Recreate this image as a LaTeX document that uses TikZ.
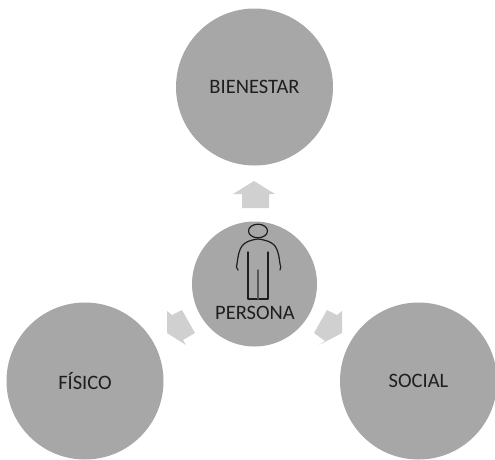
\documentclass[tikz,border=0pt]{standalone}
\usepackage{fontspec}
\setmainfont{Carlito}
\definecolor{disc}{RGB}{167,167,167}
\definecolor{arr}{RGB}{208,208,208}
\definecolor{ink}{RGB}{30,30,30}
\tikzset{
 disc/.style={circle,fill=disc,minimum size=#1,inner sep=0pt,font=\fontsize{20.5}{24}\selectfont,text=ink},
 fat/.style={fill=arr,draw=none},
 figline/.style={draw=ink,line width=1.2pt,line join=round,line cap=round}
}
\begin{document}
\begin{tikzpicture}[x=1pt,y=-1pt]
\useasboundingbox (0,0) rectangle (495,459);
\node[disc=157pt] (b) at (254.5,87) {BIENESTAR};
\node[disc=157pt] (f) at (85,381) {FÍSICO};
\node[disc=157pt] (s) at (418.5,381) {SOCIAL};
\node[disc=125pt] (p) at (254.5,284) {};
\node[font=\fontsize{20.5}{24}\selectfont,text=ink] (pl) at (255,313) {PERSONA};
\fill[fat] (254,181) -- (275,194) -- (269,194) -- (269,208) -- (242,208) -- (242,194) -- (233,194) -- cycle;
\fill[fat] (167,333) -- (167,311) -- (172,315) -- (182,310) -- (195,333) -- (183,340) -- (186,345) -- cycle;
\fill[fat] (342,333) -- (342,311) -- (337,315) -- (327,310) -- (314,333) -- (325,341) -- (319,345) -- cycle;
\draw[figline] (258,231) circle[x radius=9.5,y radius=6.8];
\draw[figline] (238,270) .. controls (236,268) and (236,266) .. (237,264) .. controls (238,256) and (239,250) .. (242,246) .. controls (245,242) and (250,240) .. (258,239) .. controls (266,240) and (272,242) .. (275,246) .. controls (278,250) and (279,256) .. (280,264) .. controls (281,266) and (281,268) .. (280,270);
\draw[figline] (248,252) -- (248,299) -- (268,299) -- (268,252);
\draw[figline,draw=ink!75] (258,270) -- (258,299);
\end{tikzpicture}
\end{document}
